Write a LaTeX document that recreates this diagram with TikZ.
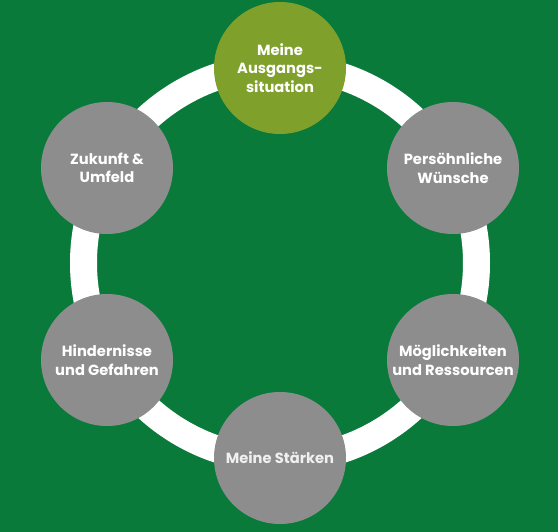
\documentclass[tikz,border=0pt]{standalone}
\usepackage{fontspec}
\setmainfont{Poppins}
\definecolor{bggreen}{HTML}{0A7A3A}
\definecolor{olive}{HTML}{7FA12B}
\definecolor{stepgray}{HTML}{8D8D8D}
\tikzset{
  phase/.style={circle, fill=stepgray, minimum size=132pt, inner sep=0pt,
    text=white, align=center, font=\fontsize{14.7}{18.5}\selectfont\bfseries},
}
\begin{document}
\begin{tikzpicture}[x=1pt,y=-1pt]
\fill[bggreen] (0,0) rectangle (558,532);
\draw[white, line width=27pt] (280,263) circle (196.5);
\node[phase, fill=olive] (start) at (280,68) {Meine\\Ausgangs-\\situation};
\node[phase] (wishes) at (453,168) {Persöhnliche\\Wünsche};
\node[phase] (options) at (453,360) {Möglichkeiten\\und Ressourcen};
\node[phase, text=white!88!gray] (strengths) at (280,458) {Meine Stärken};
\node[phase] (risks) at (107,360) {Hindernisse\\und Gefahren};
\node[phase] (future) at (107,168) {Zukunft \&\\Umfeld};
\end{tikzpicture}
\end{document}
